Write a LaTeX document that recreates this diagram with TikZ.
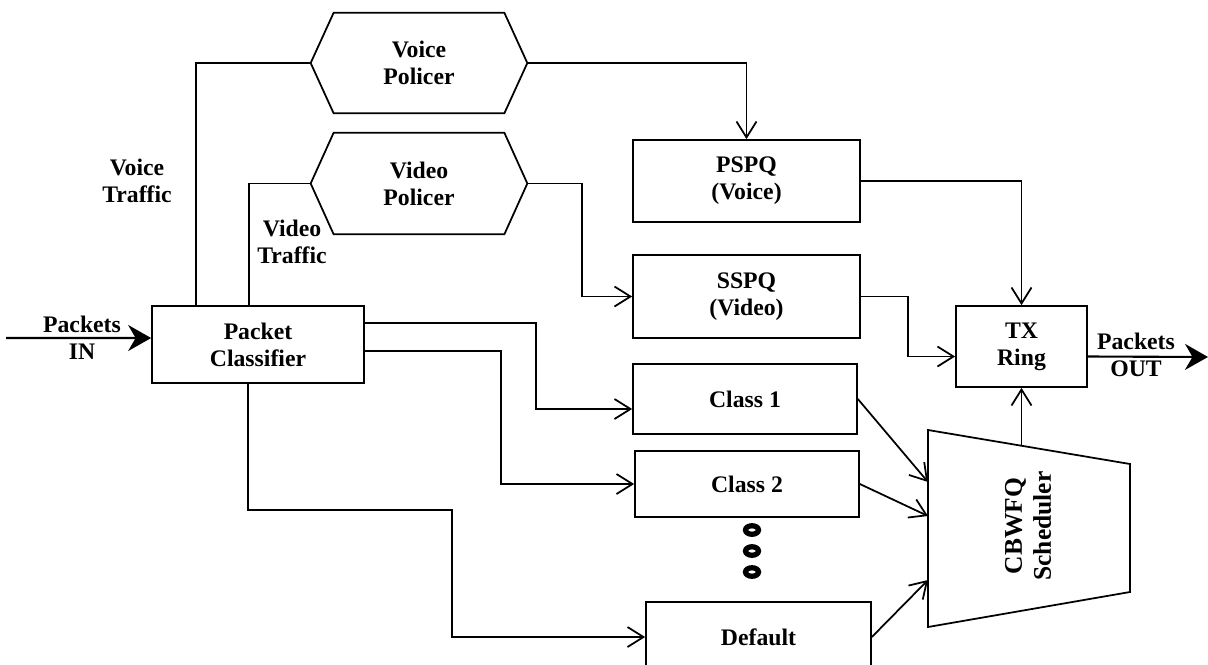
\documentclass[tikz,border=0pt]{standalone}
\usepackage{fontspec}
\setmainfont{Liberation Serif}
\usetikzlibrary{arrows.meta}

\begin{document}
\begin{tikzpicture}[x=0.02cm, y=-0.02cm, font=\fontsize{13.5}{15.5}\selectfont\bfseries]
  \tikzset{box/.style={draw, line width=1pt, align=center, inner sep=0pt},
           textonly/.style={align=center, inner sep=0pt},
           wire/.style={line width=1pt},
           flow/.style={line width=1pt, -{Straight Barb[length=0.32cm,width=0.4cm]}},
           bigarrow/.style={line width=1.2pt, -{Stealth[length=0.46cm,width=0.52cm,inset=0.15cm]}}}

  \useasboundingbox (0,0) rectangle (1208,664);
  \clip (0,0) rectangle (1208,664);

  % Packet classifier
  \node[box, minimum width=4.24cm, minimum height=1.54cm] (classifier) at (258,344.5) {Packet\\Classifier};

  % Policers, hexagon drawn round the text
  \node[textonly, minimum width=4.32cm, minimum height=2cm] (voicepol) at (419,63) {Voice\\Policer};
  \node[textonly, minimum width=4.32cm, minimum height=2.02cm] (vidpol) at (419,183.5) {Video\\Policer};
  \foreach \p in {voicepol, vidpol}
    \draw[wire] (\p.west) -- ([xshift=0.46cm]\p.north west) -- ([xshift=-0.46cm]\p.north east)
      -- (\p.east) -- ([xshift=-0.46cm]\p.south east) -- ([xshift=0.46cm]\p.south west) -- cycle;

  % Queues
  \node[box, minimum width=4.54cm, minimum height=1.64cm] (pspq) at (746.5,181) {PSPQ\\(Voice)};
  \node[box, minimum width=4.54cm, minimum height=1.66cm] (sspq) at (746.5,296.5) {SSPQ\\(Video)};
  \node[box, minimum width=4.48cm, minimum height=1.4cm] (class1) at (745,399) {Class 1};
  \node[box, minimum width=4.48cm, minimum height=1.32cm] (class2) at (747,484) {Class 2};
  \node[box, minimum width=4.5cm, minimum height=1.4cm] (default) at (758.5,637) {Default};

  % Dots between Class 2 and Default
  \foreach \y in {530,551,572}
    \draw[line width=3pt] (752,\y) ellipse [x radius=0.13cm, y radius=0.085cm];

  % TX ring
  \node[box, minimum width=2.62cm, minimum height=1.62cm] (txring) at (1021.5,346.5) {TX\\Ring};

  % CBWFQ scheduler
  \draw[wire] (928,430) -- (1130,464) -- (1130,592) -- (928,627) -- cycle;
  \node[textonly, rotate=90, font=\fontsize{14.5}{16.5}\selectfont\bfseries] (sched) at (1028,526) {CBWFQ\\Scheduler};
  \coordinate (schedtop) at (1021.5,446);
  \coordinate (schedin1) at (928,482);
  \coordinate (schedin2) at (928,516);
  \coordinate (schedin3) at (928,580);

  % Labels
  \node[textonly] (voicetr) at (137,181) {Voice\\Traffic};
  \node[textonly] (vidtr) at (292,242) {Video\\Traffic};
  \node[textonly] (pin) at (82,338) {Packets\\IN};
  \node[textonly] (pout) at (1136,355) {Packets\\OUT};

  % Packets in and out
  \coordinate (in) at (6,338);
  \coordinate (out) at (1208,357);
  \draw[bigarrow] (in) -- ([yshift=0.13cm]classifier.west);
  \draw[bigarrow] ([yshift=-0.2cm]txring.east) -- (out);

  % Classifier to policers
  \draw[wire] ([xshift=0.9cm]classifier.north west) |- (voicepol.west);
  \draw[wire] ([xshift=1.96cm]classifier.north west) |- (vidpol.west);

  % Policers to queues
  \draw[flow] (voicepol.east) -| (pspq.north);
  \draw[flow] (vidpol.east) -- ++(55,0) |- (sspq.west);

  % Classifier to class queues
  \draw[flow] ([yshift=0.43cm]classifier.east) -- ++(171,0) |- ([yshift=-0.2cm]class1.west);
  \draw[flow] ([yshift=-0.13cm]classifier.east) -- ++(136,0) |- (class2.west);
  \draw[flow] ([xshift=-0.2cm]classifier.south) |- (452,510) |- (default.west);

  % Queues to TX ring
  \draw[flow] (pspq.east) -| (txring.north);
  \draw[flow] (sspq.east) -- ++(47,0) |- ([yshift=-0.2cm]txring.west);

  % Class queues to scheduler
  \draw[flow] (class1.east) -- (schedin1);
  \draw[flow] (class2.east) -- (schedin2);
  \draw[flow] (default.east) -- (schedin3);
  \draw[flow] (schedtop) -- (txring.south);

\end{tikzpicture}
\end{document}
